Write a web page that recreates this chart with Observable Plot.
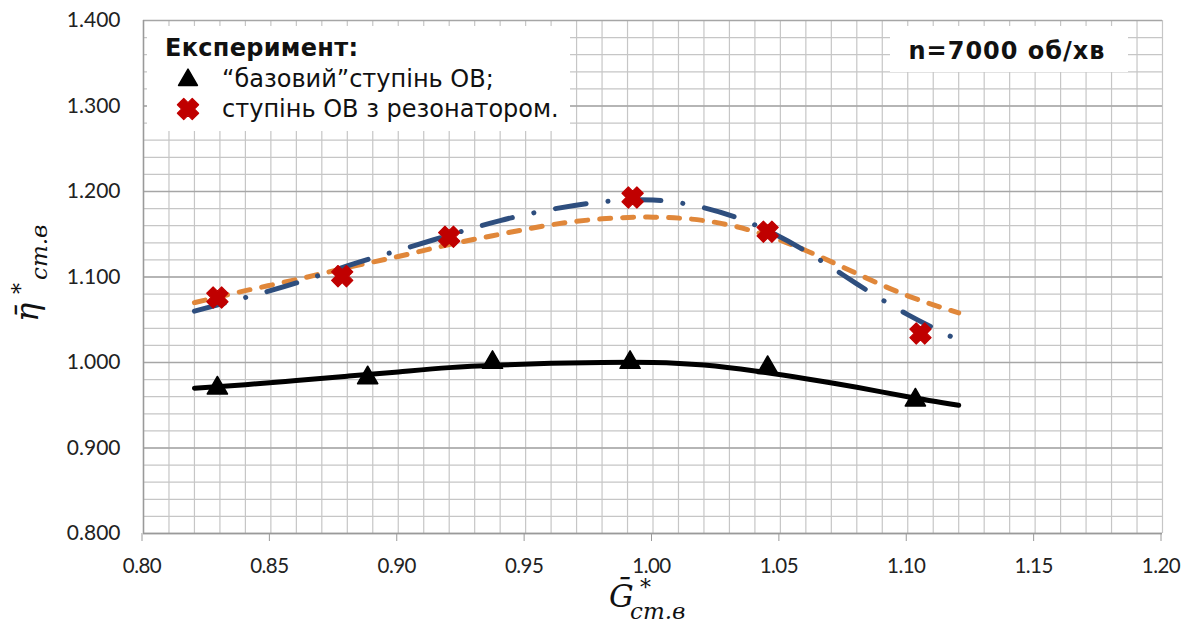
<!DOCTYPE html>
<html>
<head>
<meta charset="utf-8">
<script src="https://cdn.jsdelivr.net/npm/d3@7"></script>
<script src="https://cdn.jsdelivr.net/npm/@observablehq/plot@0.6"></script>
<style>
  html, body { margin: 0; padding: 0; background: #fff; }
  #chart svg { display: block; }
</style>
</head>
<body>
<div id="chart"></div>
<script>
// ---- data ----
const xTicks = [0.80, 0.85, 0.90, 0.95, 1.00, 1.05, 1.10, 1.15, 1.20];
const yTicks = [0.800, 0.900, 1.000, 1.100, 1.200, 1.300, 1.400];

// experiment: "базовий" ступінь ОВ (black triangles)
const baseX = [0.829, 0.888, 0.937, 0.991, 1.045, 1.103];
const baseY = [0.970, 0.982, 1.000, 1.000, 0.994, 0.956];

// experiment: ступінь ОВ з резонатором (red crosses)
const resX = [0.829, 0.878, 0.920, 0.992, 1.045, 1.105];
const resY = [1.076, 1.101, 1.147, 1.193, 1.153, 1.034];

// trend lines
const trendX      = [0.82, 0.84, 0.86, 0.88, 0.90, 0.92, 0.94, 0.96, 0.98, 1.00, 1.02, 1.04, 1.06, 1.08, 1.10, 1.12];
const baseTrend   = [0.970, 0.974, 0.979, 0.984, 0.989, 0.994, 0.997, 0.999, 1.000, 1.000, 0.997, 0.990, 0.981, 0.971, 0.960, 0.950];
const resTrendOr  = [1.070, 1.084, 1.097, 1.111, 1.124, 1.138, 1.150, 1.161, 1.168, 1.170, 1.166, 1.153, 1.131, 1.104, 1.078, 1.058];
const resTrendBl  = [1.060, 1.076, 1.093, 1.113, 1.131, 1.149, 1.166, 1.179, 1.188, 1.190, 1.181, 1.161, 1.130, 1.092, 1.056, 1.026];

const legendTitle = "Експеримент:";
const legendItems = ["\u201Cбазовий\u201Dступінь ОВ;", "ступінь ОВ з резонатором."];
const infoText = "n=7000 об/хв";

// ---- build table ----
const basePts = baseX.map((x, i) => ({x, y: baseY[i]}));
const resPts = resX.map((x, i) => ({x, y: resY[i]}));
const tBase = trendX.map((x, i) => ({x, y: baseTrend[i]}));
const tOr = trendX.map((x, i) => ({x, y: resTrendOr[i]}));
const tBl = trendX.map((x, i) => ({x, y: resTrendBl[i]}));

const minorX = d3.range(0, 41).map(i => +(0.80 + i * 0.01).toFixed(2));
const minorY = d3.range(0, 31).map(i => +(0.80 + i * 0.02).toFixed(2));

const RED = "#C00000", BLUE = "#2E4E7E", ORANGE = "#E0873A";

// heavy "X" marker
const crossSymbol = {
  draw(ctx, size) {
    const r = Math.sqrt(size / Math.PI);
    const a = 1.05 * r, t = 0.45 * r;
    const pts = [[t,-a],[t,-t],[a,-t],[a,t],[t,t],[t,a],[-t,a],[-t,t],[-a,t],[-a,-t],[-t,-t],[-t,-a]];
    const s = Math.SQRT1_2;
    pts.forEach(([x, y], i) => {
      const X = (x - y) * s, Y = (x + y) * s;
      if (i === 0) ctx.moveTo(X, Y); else ctx.lineTo(X, Y);
    });
    ctx.closePath();
  }
};

const chart = Plot.plot({
  width: 1181,
  height: 629,
  marginLeft: 143,
  marginRight: 19,
  marginTop: 20,
  marginBottom: 96,
  style: {fontFamily: "Lato, 'Open Sans', sans-serif", fontSize: "21px", color: "#222", background: "#fff"},
  x: {domain: [0.8, 1.2]},
  y: {domain: [0.8, 1.4]},
  marks: [
    Plot.ruleX(minorX, {stroke: "#c6c6c6", strokeWidth: 1.2}),
    Plot.ruleY(minorY, {stroke: "#c6c6c6", strokeWidth: 1.2}),
    Plot.ruleY(yTicks, {stroke: "#a6a6a6", strokeWidth: 1.3}),
    Plot.ruleX([0.8], {stroke: "#9a9a9a", strokeWidth: 1.5}),
    Plot.ruleY([0.8], {stroke: "#9a9a9a", strokeWidth: 1.5}),
    Plot.axisX(xTicks, {tickFormat: d => d.toFixed(2), tickSize: 8, tickPadding: 17, stroke: "#9a9a9a", fill: "#222", label: null, fontSize: 20.5, dx: -1.5}),
    Plot.axisY(yTicks, {tickFormat: d => d.toFixed(3), tickSize: 0, tickPadding: 23, fill: "#222", label: null}),
    Plot.line(tBase, {x: "x", y: "y", stroke: "#000", strokeWidth: 5, curve: "natural"}),
    Plot.line(tOr, {x: "x", y: "y", stroke: ORANGE, strokeWidth: 5, curve: "natural", strokeDasharray: "11,12", strokeLinecap: "round"}),
    Plot.line(tBl, {x: "x", y: "y", stroke: BLUE, strokeWidth: 5, curve: "natural", strokeDasharray: "31,22,0.1,22", strokeLinecap: "round"}),
    Plot.dot(basePts, {x: "x", y: "y", symbol: "triangle", r: 7.5, fill: "#000", stroke: "#000", strokeWidth: 1.5, strokeLinejoin: "round"}),
    Plot.dot(resPts, {x: "x", y: "y", symbol: crossSymbol, r: 10, fill: RED, stroke: RED, strokeWidth: 1.2, strokeLinejoin: "round"})
  ]
});

document.getElementById("chart").appendChild(chart);

// tighten x tick labels a little (Calibri-like width)
d3.select(chart).selectAll('g[aria-label="x-axis tick label"] text').attr("letter-spacing", "-0.5px");

// ---- annotations: legend box, info box, axis titles ----
const svg = d3.select(chart);
const g = svg.append("g").attr("text-anchor", "start");
const sans = "'DejaVu Sans', Verdana, sans-serif";

// legend box
g.append("rect").attr("x", 147).attr("y", 26).attr("width", 423).attr("height", 105).attr("fill", "#fff");
g.append("text").attr("x", 165).attr("y", 56).attr("text-anchor", "start")
  .attr("font-family", sans).attr("font-weight", "bold").attr("font-size", 24)
  .attr("letter-spacing", "0.3px").attr("fill", "#111").text(legendTitle);
g.append("path").attr("transform", "translate(188,80)")
  .attr("d", d3.symbol(d3.symbolTriangle, 7 * 7 * Math.PI)())
  .attr("fill", "#000").attr("stroke", "#000").attr("stroke-width", 1.5).attr("stroke-linejoin", "round");
g.append("path").attr("transform", "translate(188,109)")
  .attr("d", d3.symbol(crossSymbol, 10 * 10 * Math.PI)())
  .attr("fill", RED).attr("stroke", RED).attr("stroke-width", 1.2).attr("stroke-linejoin", "round");
legendItems.forEach((t, i) => {
  g.append("text").attr("x", 222).attr("y", 87 + i * 30).attr("text-anchor", "start")
    .attr("font-family", sans).attr("font-size", 24)
    .attr("fill", "#111").text(t);
});

// info box
g.append("rect").attr("x", 890).attr("y", 26).attr("width", 238).attr("height", 46).attr("fill", "#fff");
g.append("text").attr("x", 1007).attr("y", 59).attr("text-anchor", "middle")
  .attr("font-family", sans).attr("font-weight", "bold").attr("font-size", 24)
  .attr("letter-spacing", "1px").attr("fill", "#111").text(infoText);

// x title
const serif = "'DejaVu Serif', 'Liberation Serif', serif";
const xt = g.append("text").attr("text-anchor", "start").attr("font-family", serif).attr("font-style", "italic").attr("fill", "#111");
xt.append("tspan").attr("x", 609).attr("y", 607).attr("font-size", 31).text("G\u0304");
xt.append("tspan").attr("x", 640).attr("y", 595).attr("font-size", 22).text("*");
xt.append("tspan").attr("x", 630).attr("y", 619).attr("font-size", 23).text("ст.в");

// y title (rotated)
const yt = g.append("text").attr("text-anchor", "start").attr("transform", "translate(38,322) rotate(-90)")
  .attr("font-family", serif).attr("font-style", "italic").attr("fill", "#111");
yt.append("tspan").attr("x", 0).attr("y", 0).attr("font-size", 32).text("\u03B7\u0304");
yt.append("tspan").attr("x", 28).attr("y", -10).attr("font-size", 22).text("*");
yt.append("tspan").attr("x", 42).attr("y", 9).attr("font-size", 23).text("ст.в");
</script>
</body>
</html>
